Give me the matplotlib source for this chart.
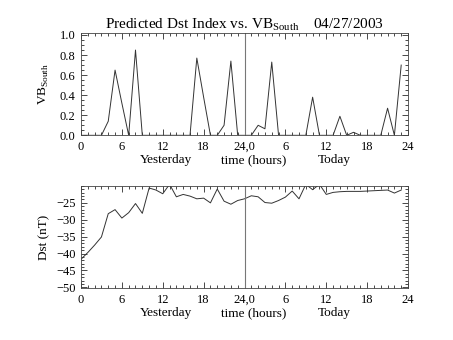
import numpy as np
import matplotlib
matplotlib.use('Agg')
from matplotlib import pyplot as plt
from matplotlib.ticker import MultipleLocator, FixedLocator, FormatStrFormatter

# hourly samples, yesterday 0-23 then today 0-23
hours = np.arange(48)

vb_south = [0.0, 0.0, 0.0, 0.0, 0.14, 0.65, 0.32, 0.0, 0.85, 0.0,
            0.0, 0.0, 0.0, 0.0, 0.0, 0.0, 0.0, 0.77, 0.38, 0.0,
            0.0, 0.10, 0.74, 0.0, 0.0, 0.0, 0.10, 0.065, 0.73, 0.0,
            0.0, 0.0, 0.0, 0.0, 0.38, 0.0, 0.0, 0.0, 0.19, 0.0,
            0.03, 0.0, 0.0, 0.0, 0.0, 0.27, 0.0, 0.70]

dst = [-41.7, -39.7, -37.5, -35.1, -28.2, -27.0, -29.5, -27.9, -25.2, -28.1,
       -20.6, -21.2, -22.3, -19.5, -23.2, -22.5, -23.0, -23.8, -23.6, -25.0,
       -20.9, -24.5, -25.4, -24.3, -23.8, -22.9, -23.2, -24.9, -25.1, -24.3,
       -23.3, -21.5, -23.8, -19.5, -21.1, -19.5, -22.5, -21.9, -21.7, -21.6,
       -21.6, -21.6, -21.5, -21.4, -21.3, -21.2, -22.1, -21.2]

xtick_pos = [0, 6, 12, 18, 24, 30, 36, 42, 48]
xtick_labels = ['0', '6', '12', '18', '24,0', '6', '12', '18', '24']

plt.rcParams['font.family'] = ['Liberation Serif', 'DejaVu Serif']
plt.rcParams['font.size'] = 9
plt.rcParams['mathtext.fontset'] = 'custom'
plt.rcParams['mathtext.rm'] = 'Liberation Serif'

fig = plt.figure(figsize=(4.53, 3.40), dpi=100)
ax1 = fig.add_axes([0.1788, 0.602, 0.7219, 0.301])
ax2 = fig.add_axes([0.1788, 0.152, 0.7219, 0.301])

def style_axis(ax):
	ax.set_xlim(0, 48)
	ax.xaxis.set_major_locator(FixedLocator(xtick_pos))
	ax.set_xticklabels(xtick_labels)
	ax.xaxis.set_minor_locator(MultipleLocator(1))
	ax.tick_params(which='both', direction='in', top=True, right=True,
		width=0.5, labelsize=9, pad=4)
	ax.tick_params(which='major', length=4)
	ax.tick_params(which='minor', length=2)
	for s in ax.spines.values():
		s.set_linewidth(0.6)
		s.set_color('#444444')
	ax.axvline(24, color='#777777', lw=0.8)
	# day / axis captions under the tick labels
	ax.text(0.259, -0.27, 'Yesterday', transform=ax.transAxes, ha='center', fontsize=9.5)
	ax.text(0.527, -0.27, 'time (hours)', transform=ax.transAxes, ha='center', fontsize=9.5)
	ax.text(0.776, -0.27, 'Today', transform=ax.transAxes, ha='center', fontsize=9.5)

# Top panel: VB south
ax1.plot(hours, vb_south, color='#333333', lw=0.7)
ax1.set_ylim(0, 1.02)
ax1.yaxis.set_major_locator(MultipleLocator(0.2))
ax1.yaxis.set_minor_locator(MultipleLocator(0.05))
ax1.yaxis.set_major_formatter(FormatStrFormatter('%.1f'))
style_axis(ax1)
ax1.set_ylabel(r'VB$_{\mathrm{South}}$', fontsize=9.5, labelpad=6)
ax1.set_title(r'Predicted Dst Index vs. VB$_{\mathrm{South}}$    04/27/2003', fontsize=11, pad=3)

# Bottom panel: Dst
ax2.plot(hours, dst, color='#333333', lw=0.7)
ax2.set_ylim(-50.3, -20)
ax2.yaxis.set_major_locator(FixedLocator([-50, -45, -40, -35, -30, -25]))
ax2.yaxis.set_minor_locator(MultipleLocator(1))
style_axis(ax2)
ax2.set_ylabel('Dst (nT)', fontsize=9.5, labelpad=4)

plt.savefig('out.png', dpi=100)
